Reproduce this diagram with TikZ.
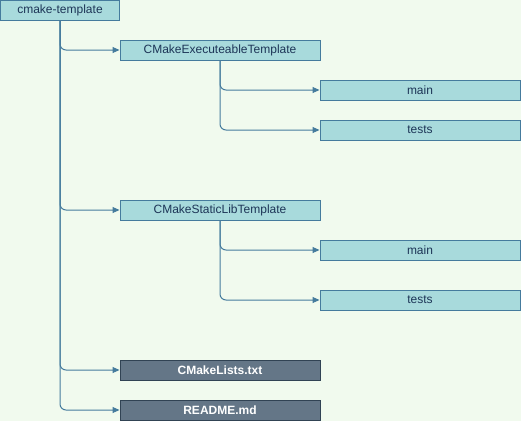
\documentclass[tikz,border=0pt]{standalone}
\usepackage{fontspec}
\setmainfont{Liberation Sans}
\usetikzlibrary{arrows.meta}
\definecolor{bgc}{HTML}{F1FAEE}
\definecolor{boxfill}{HTML}{A8DADC}
\definecolor{boxline}{HTML}{457B9D}
\definecolor{boxtext}{HTML}{1D3557}
\definecolor{darkfill}{HTML}{647687}
\definecolor{darkline}{HTML}{314354}
\tikzset{
  lightbox/.style={draw=boxline, fill=boxfill, line width=1pt, text=boxtext, minimum height=20pt, inner sep=0pt, font=\fontsize{12}{14}\selectfont},
  darkbox/.style={draw=darkline, fill=darkfill, line width=1pt, text=white, minimum height=20pt, minimum width=200pt, inner sep=0pt, font=\fontsize{12}{14}\selectfont\bfseries},
  conn/.style={draw=boxline, line width=1pt, rounded corners=6pt, -{Triangle[length=7pt,width=6pt]}},
}
\begin{document}
\begin{tikzpicture}[x=1pt,y=-1pt]
\fill[bgc] (0,0) rectangle (521,421);
\useasboundingbox (0,0) rectangle (521,421);
\node[lightbox, minimum width=119pt] (root) at (60,10) {cmake-template};
\node[lightbox, minimum width=200pt] (exe) at (220,50) {CMakeExecuteableTemplate};
\node[lightbox, minimum width=200pt] (exemain) at (420,90) {main};
\node[lightbox, minimum width=200pt] (exetests) at (420,130) {tests};
\node[lightbox, minimum width=200pt] (lib) at (220,210) {CMakeStaticLibTemplate};
\node[lightbox, minimum width=200pt] (libmain) at (420,250) {main};
\node[lightbox, minimum width=200pt] (libtests) at (420,300) {tests};
\node[darkbox] (cml) at (220,370) {CMakeLists.txt};
\node[darkbox] (readme) at (220,410) {README.md};
\draw[conn] (root.south) |- (exe.west);
\draw[conn] (root.south) |- (lib.west);
\draw[conn] (root.south) |- (cml.west);
\draw[conn] (root.south) |- (readme.west);
\draw[conn] (exe.south) |- (exemain.west);
\draw[conn] (exe.south) |- (exetests.west);
\draw[conn] (lib.south) |- (libmain.west);
\draw[conn] (lib.south) |- (libtests.west);
\end{tikzpicture}
\end{document}
